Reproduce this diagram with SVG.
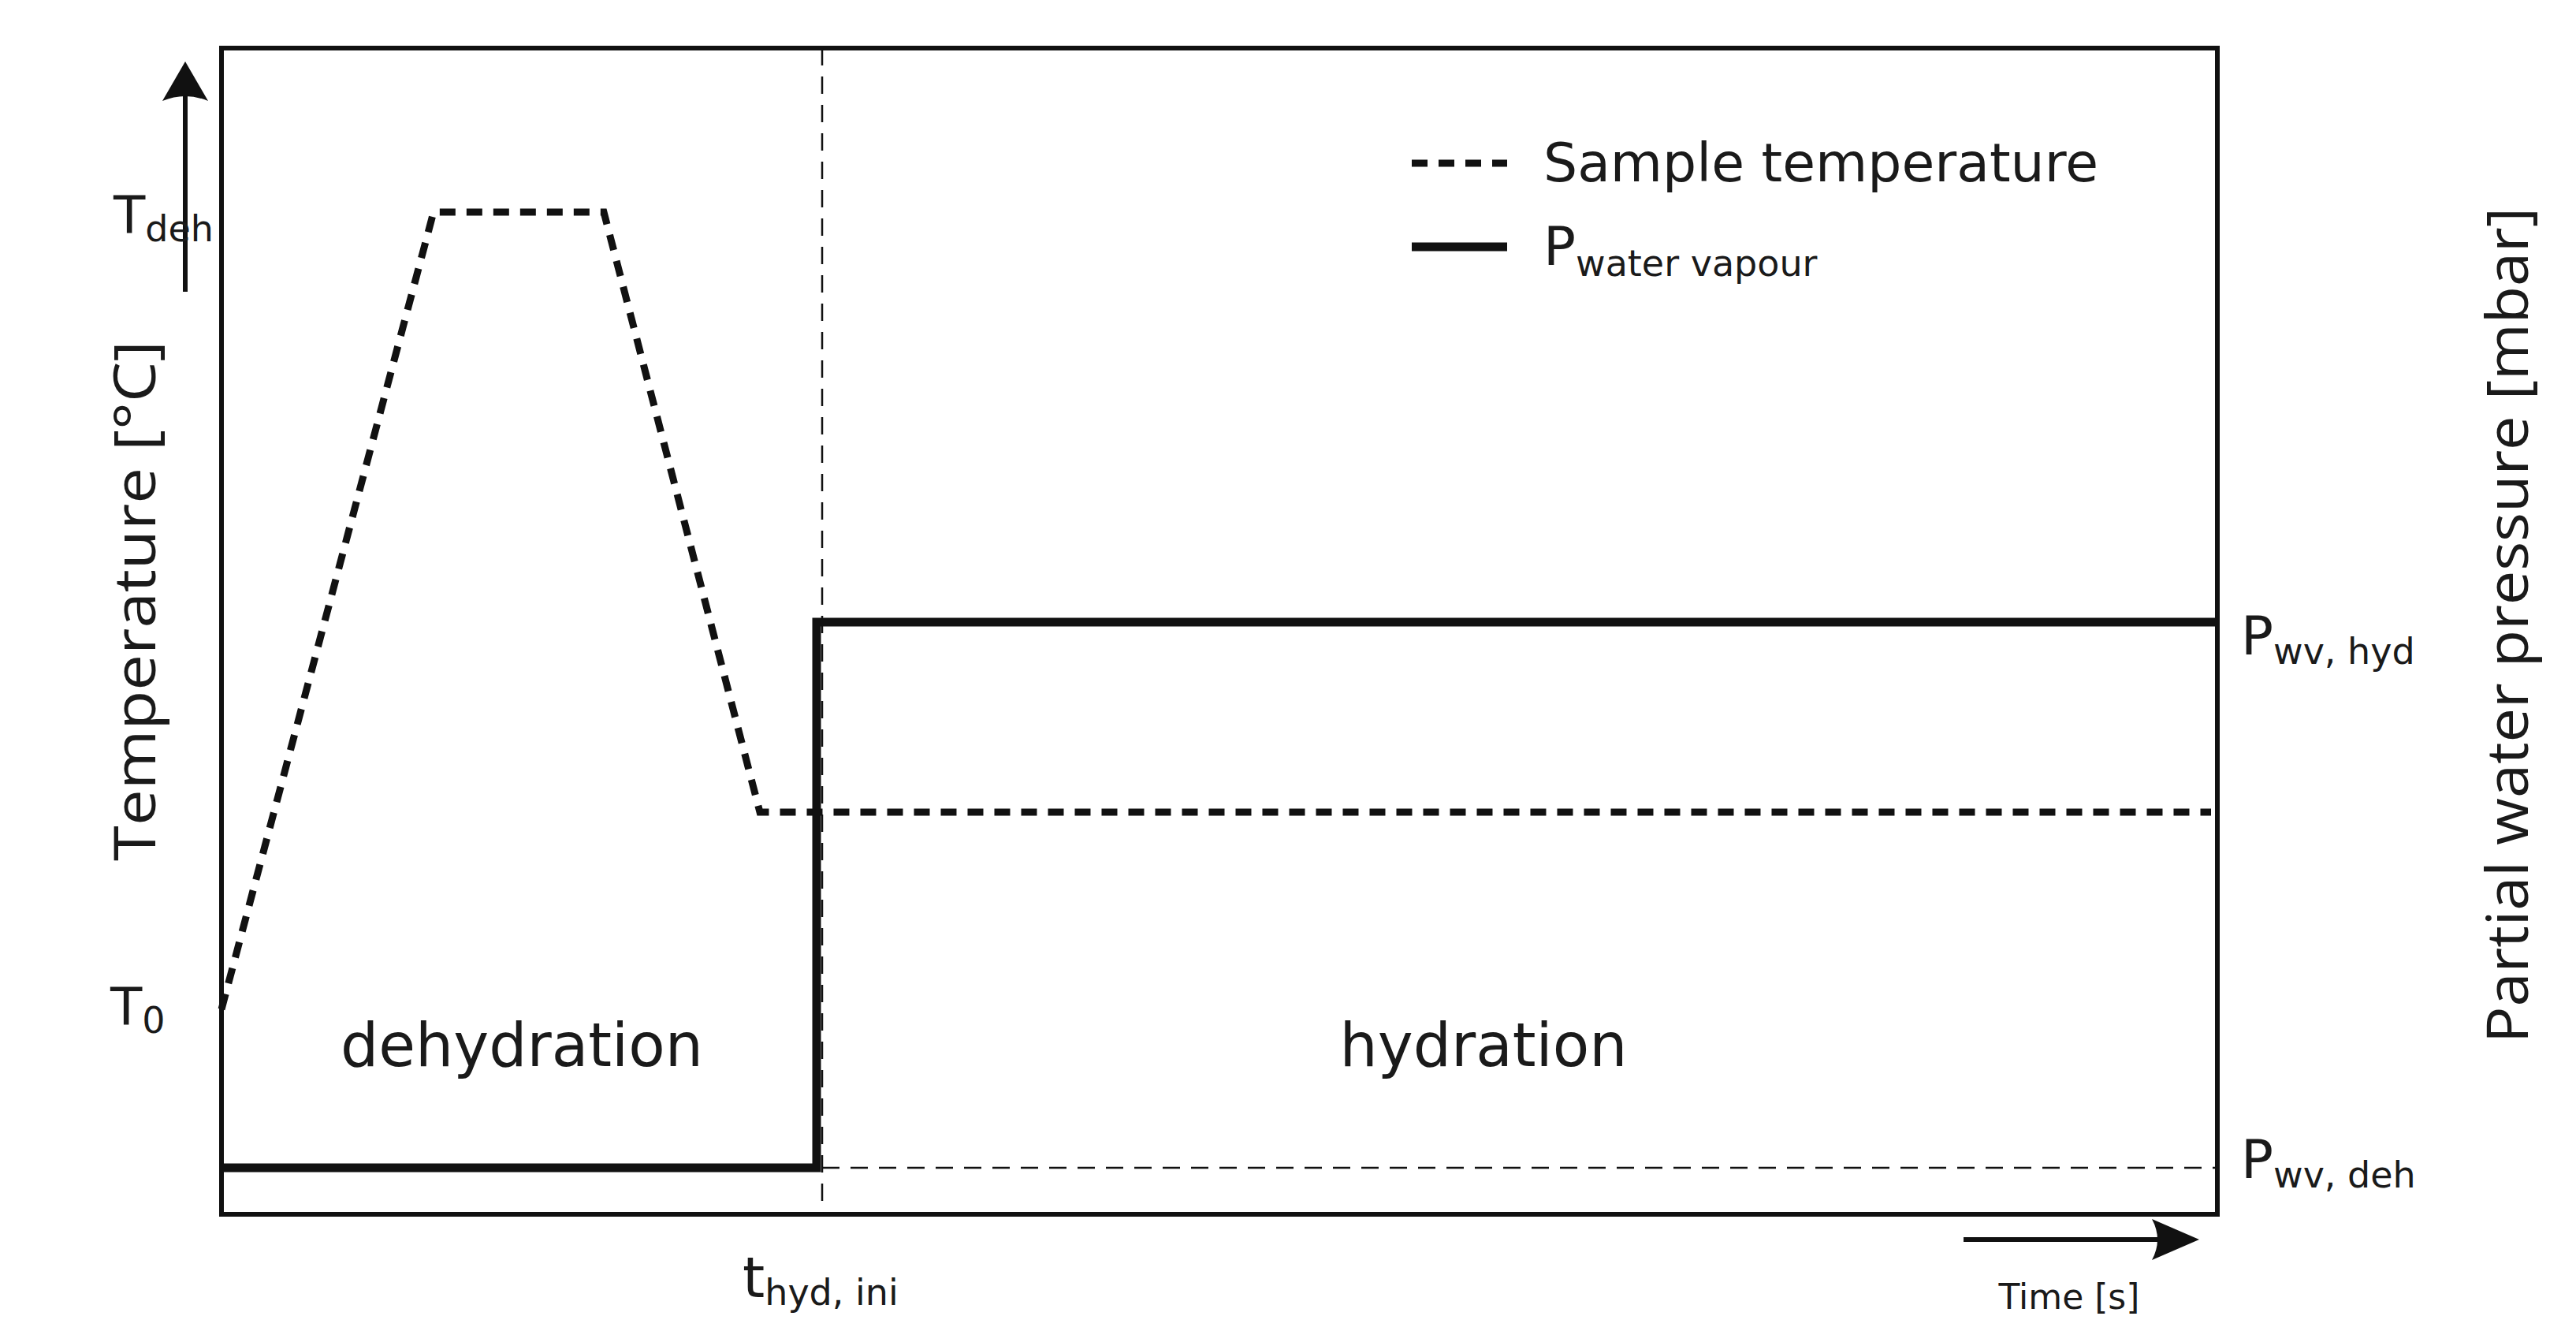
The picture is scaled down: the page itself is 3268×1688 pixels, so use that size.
<svg xmlns="http://www.w3.org/2000/svg" width="3268" height="1688" viewBox="0 0 3268 1688">
<defs>
<style>
.t{font-family:"DejaVu Sans",sans-serif;fill:#1a1a1a}
.ax{font-family:"Open Sans","DejaVu Sans",sans-serif;fill:#1a1a1a;font-size:74px}
.dot{fill:none;stroke:#111;stroke-width:9;stroke-dasharray:20 14}
.thin{fill:none;stroke:#111;stroke-width:2.5;stroke-dasharray:22 14}
.thick{fill:none;stroke:#111;stroke-width:11}
</style>
<marker id="ah" viewBox="0 0 20 14" refX="18" refY="7" markerWidth="20" markerHeight="14" markerUnits="userSpaceOnUse" orient="auto"><path d="M0,0 L20,7 L0,14 L5,7 Z" fill="#111"/></marker>
</defs>
<rect width="3268" height="1688" fill="#fff"/>
<g id="frame"><rect x="281" y="61" width="2532" height="1479" fill="none" stroke="#111" stroke-width="6"/></g>
<g id="connectors">
<line class="thin" x1="1043" y1="61" x2="1043" y2="1540"/>
<line class="thin" x1="1043" y1="1481" x2="2813" y2="1481"/>
<polyline class="dot" points="281,1280 550,269 766,269 964,1030 2805,1030"/>
<polyline class="thick" points="281,1481 1036,1481 1036,789 2813,789"/>
<line x1="235" y1="370" x2="235" y2="110" stroke="#111" stroke-width="6" marker-end="url(#ah)" style="marker-end:none"/>
<path d="M235,78 L206,128 Q235,116 264,128 Z" fill="#111"/>
<line x1="2491" y1="1572" x2="2740" y2="1572" stroke="#111" stroke-width="6"/>
<path d="M2790,1572 L2730,1546 Q2744,1572 2730,1598 Z" fill="#111"/>
</g>
<g id="legend">
<line class="dot" x1="1791" y1="207" x2="1912" y2="207"/>
<text class="t" x="1958" y="230" font-size="68">Sample temperature</text>
<line class="thick" x1="1791" y1="313" x2="1912" y2="313" stroke-width="10"/>
<text class="t" x="1958" y="336" font-size="68">P<tspan font-size="46" dy="14">water vapour</tspan></text>
</g>
<g id="labels">
<text class="t" x="144" y="296" font-size="66">T<tspan font-size="46" dy="10">deh</tspan></text>
<text class="t" x="140" y="1300" font-size="66">T<tspan font-size="46" dy="10">0</tspan></text>
<text class="t" x="662" y="1352" font-size="76" text-anchor="middle">dehydration</text>
<text class="t" x="1882" y="1352" font-size="76" text-anchor="middle">hydration</text>
<text class="t" x="2843" y="830" font-size="68">P<tspan font-size="46" dy="12">wv, hyd</tspan></text>
<text class="t" x="2843" y="1494" font-size="68">P<tspan font-size="46" dy="12">wv, deh</tspan></text>
<text class="t" x="942" y="1645" font-size="72">t<tspan font-size="46" dy="10">hyd, ini</tspan></text>
<text class="t" x="2625" y="1660" font-size="44" text-anchor="middle">Time [s]</text>
<text class="ax" transform="translate(197,762) rotate(-90)" text-anchor="middle" textLength="660" lengthAdjust="spacingAndGlyphs">Temperature [°C]</text>
<text class="ax" transform="translate(3207,793) rotate(-90)" text-anchor="middle" textLength="1060" lengthAdjust="spacingAndGlyphs">Partial water pressure [mbar]</text>
</g>
</svg>
